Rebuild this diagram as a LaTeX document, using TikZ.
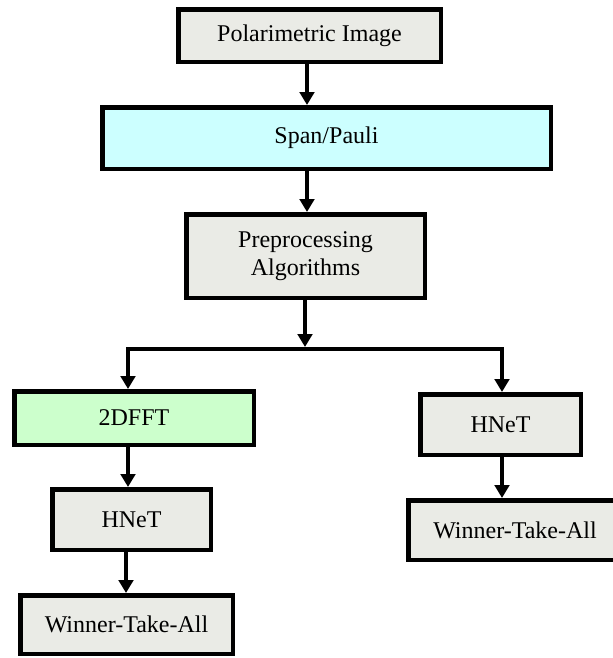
\documentclass[tikz,border=0pt]{standalone}
\usepackage{fontspec}
\setmainfont{Liberation Serif}
\usetikzlibrary{arrows.meta}
\newdimen\pxu \pxu=0.75pt
\definecolor{boxgray}{RGB}{234,235,230}
\definecolor{boxcyan}{RGB}{204,255,255}
\definecolor{boxgreen}{RGB}{204,255,204}
\begin{document}
\begin{tikzpicture}[x=0.75pt,y=-0.75pt,
  stage/.style={draw=black, line width=3.375pt, fill=boxgray, rectangle,
    inner sep=0pt, align=center,
    font=\fontsize{18}{21}\selectfont},
  flow/.style={line width=3.375pt, line join=miter,
    -{Triangle[width=10.9pt,length=9.75pt]}},
  split/.style={line width=3.375pt, line join=miter,
    {Triangle[width=10.9pt,length=9.75pt]}-{Triangle[width=10.9pt,length=9.75pt]}}]
\useasboundingbox (0,0) rectangle (613,658);

% processing stages
\node[stage, minimum width=262.5\pxu, minimum height=52.5\pxu] (pol) at (309.5,35.5) {Polarimetric Image};
\node[stage, fill=boxcyan, minimum width=448.5\pxu, minimum height=61.5\pxu] (span) at (326.5,138) {Span/Pauli};
\node[stage, minimum width=238.5\pxu, minimum height=83.5\pxu] (pre) at (305.5,256) {Preprocessing\\Algorithms};

% left branch
\node[stage, fill=boxgreen, minimum width=239.5\pxu, minimum height=53.5\pxu] (fft) at (134,418) {2DFFT};
\node[stage, minimum width=158.5\pxu, minimum height=60.5\pxu] (hnetL) at (131.5,519.5) {HNeT};
\node[stage, minimum width=212.5\pxu, minimum height=58.5\pxu] (wtaL) at (126.5,624.5) {Winner-Take-All};

% right branch
\node[stage, minimum width=160.5\pxu, minimum height=60.5\pxu] (hnetR) at (500.5,424.5) {HNeT};
\node[stage, minimum width=213.5\pxu, minimum height=59.5\pxu] (wtaR) at (515,530) {Winner-Take-All};

% connector columns and the split line
\coordinate (c1) at (307,0);
\coordinate (c2) at (305,0);
\coordinate (jt) at (305,347);
\coordinate (jl) at (128,349);
\coordinate (jr) at (502,349);
\coordinate (cl2) at (126,0);

\draw[flow] (pol.south -| c1) -- (span.north -| c1);
\draw[flow] (span.south -| c1) -- (pre.north -| c1);
\draw[flow] (pre.south -| c2) -- (jt);
\draw[split] (fft.north -| jl) -- (jl) -- (jr) -- (hnetR.north -| jr);
\draw[flow] (fft.south -| jl) -- (hnetL.north -| jl);
\draw[flow] (hnetL.south -| cl2) -- (wtaL.north -| cl2);
\draw[flow] (hnetR.south -| jr) -- (wtaR.north -| jr);
\end{tikzpicture}
\end{document}
